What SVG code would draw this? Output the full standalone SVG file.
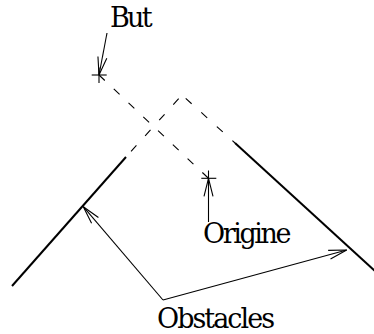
<svg xmlns="http://www.w3.org/2000/svg" width="374" height="334" viewBox="0 0 374 334">
<style>
text{font-family:'DejaVu Serif',serif;font-size:27px;fill:#000}
.thin{stroke:#000;stroke-width:1.1;fill:none}
.thick{stroke:#000;stroke-width:2;fill:none}
.dash{stroke:#000;stroke-width:1.1;fill:none;stroke-dasharray:8 13;stroke-dashoffset:16}
.arr{marker-end:url(#ah)}
</style>
<defs>
<marker id="ah" markerUnits="userSpaceOnUse" markerWidth="40" markerHeight="40" refX="0" refY="0" orient="auto" overflow="visible">
<path d="M-18,-4.5 L0,0 L-18,4.5" stroke="#000" stroke-width="1.1" fill="none"/>
</marker>
</defs>
<g id="obstacle-left">
<line class="thick" x1="12" y1="286" x2="126" y2="157"/>
<line class="dash" x1="182" y1="95" x2="126" y2="157"/>
</g>
<g id="obstacle-right">
<line class="dash" x1="182" y1="95" x2="235" y2="143"/>
<line class="thick" x1="235" y1="143" x2="375" y2="271"/>
</g>
<g id="path-but-origine">
<line class="thin" style="stroke-dasharray:8 12.3" x1="99" y1="75" x2="208.5" y2="178.3"/>
</g>
<g id="but">
<line class="thin" x1="91.7" y1="75" x2="106.7" y2="75"/>
<line class="thin" x1="99" y1="67.5" x2="99" y2="83"/>
<text x="110" y="27" textLength="42.5" lengthAdjust="spacing">But</text>
</g>
<g id="origine">
<line class="thin" x1="201.3" y1="178.3" x2="216.3" y2="178.3"/>
<line class="thin" x1="208.5" y1="170.5" x2="208.5" y2="186"/>
<text x="203" y="243" textLength="88.5" lengthAdjust="spacing">Origine</text>
</g>
<g id="obstacles">
<text x="157" y="328" textLength="118" lengthAdjust="spacing">Obstacles</text>
</g>
<g id="connectors">
<line class="thin arr" x1="107" y1="33" x2="99" y2="75"/>
<line class="thin arr" x1="208.5" y1="222" x2="208.5" y2="178.3"/>
<line class="thin arr" x1="163" y1="300" x2="83.3" y2="206.7"/>
<line class="thin arr" x1="163" y1="300" x2="346.7" y2="250"/>
</g>
</svg>
